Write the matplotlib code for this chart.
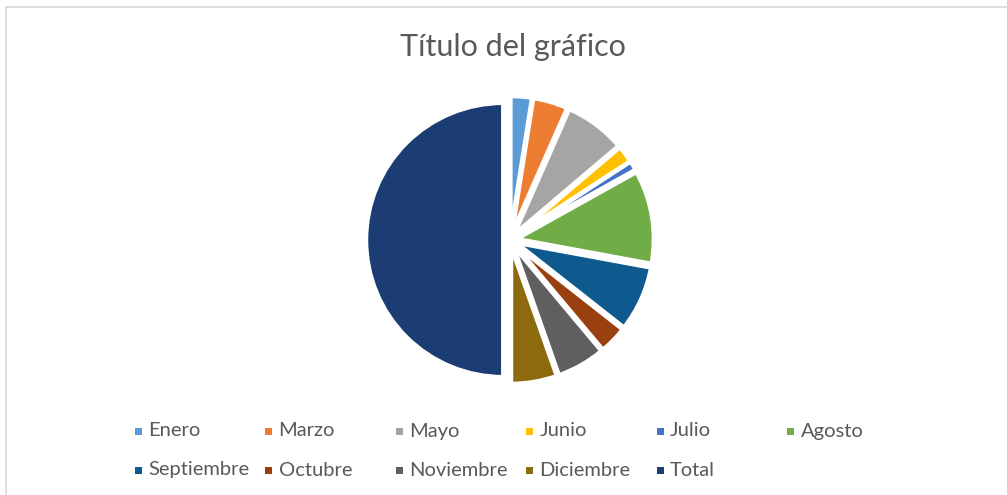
import matplotlib
matplotlib.use("Agg")
import matplotlib.pyplot as plt
from matplotlib.lines import Line2D
from matplotlib.patches import Rectangle

categories = ["Enero", "Marzo", "Mayo", "Junio", "Julio", "Agosto",
              "Septiembre", "Octubre", "Noviembre", "Diciembre", "Total"]
values = [25, 41, 72, 20, 11, 110, 77, 33, 57, 54, 500]
colors = ["#5B9BD5", "#ED7D31", "#A5A5A5", "#FFC000", "#4472C4", "#70AD47",
          "#0E5A8E", "#9A3F10", "#5F5F5F", "#8E6A0E", "#1C3D74"]
title = "Título del gráfico"

plt.rcParams['font.family'] = ['Lato', 'DejaVu Sans']

W, H = 1007, 495
fig = plt.figure(figsize=(W / 100, H / 100), dpi=100)
fig.patch.set_facecolor("white")

# chart-area border (top & left visible)
fig.add_artist(Line2D([6 / W, 1], [1 - 7 / H, 1 - 7 / H], color="#D9D9D9", lw=1.2))
fig.add_artist(Line2D([6 / W, 6 / W], [1 - 7 / H, 0], color="#D9D9D9", lw=1.2))

# pie axes
r_px = 137
cx, cy = 510, 240
half = 1.25 * r_px
ax = fig.add_axes([(cx - half) / W, (H - cy - half) / H, 2 * half / W, 2 * half / H])
ax.set_xlim(-1.25, 1.25)
ax.set_ylim(-1.25, 1.25)
ax.set_aspect("equal")
ax.axis("off")
ax.pie(values, colors=colors, startangle=90, counterclock=False,
       explode=[0.05] * len(values), radius=1.0,
       wedgeprops=dict(edgecolor="white", linewidth=3, antialiased=True))

fig.text(513 / W, 1 - 47 / H, title, ha="center", va="center",
         fontsize=22, color="#595959")

# legend (manual grid layout like Excel)
col_x = [138 + 130.5 * i for i in range(6)]
row_y = [431, 470]
for i, (lab, c) in enumerate(zip(categories, colors)):
    row, col = divmod(i, 6)
    mx = col_x[col]
    my = row_y[row]
    fig.add_artist(Rectangle(((mx - 3.5) / W, 1 - (my + 3.5) / H), 7 / W, 7 / H,
                             transform=fig.transFigure, facecolor=c, edgecolor="none"))
    fig.text((mx + 10) / W, 1 - my / H, lab, ha="left", va="center",
             fontsize=14.5, color="#595959")

fig.savefig("out.png", dpi=100, facecolor="white")
